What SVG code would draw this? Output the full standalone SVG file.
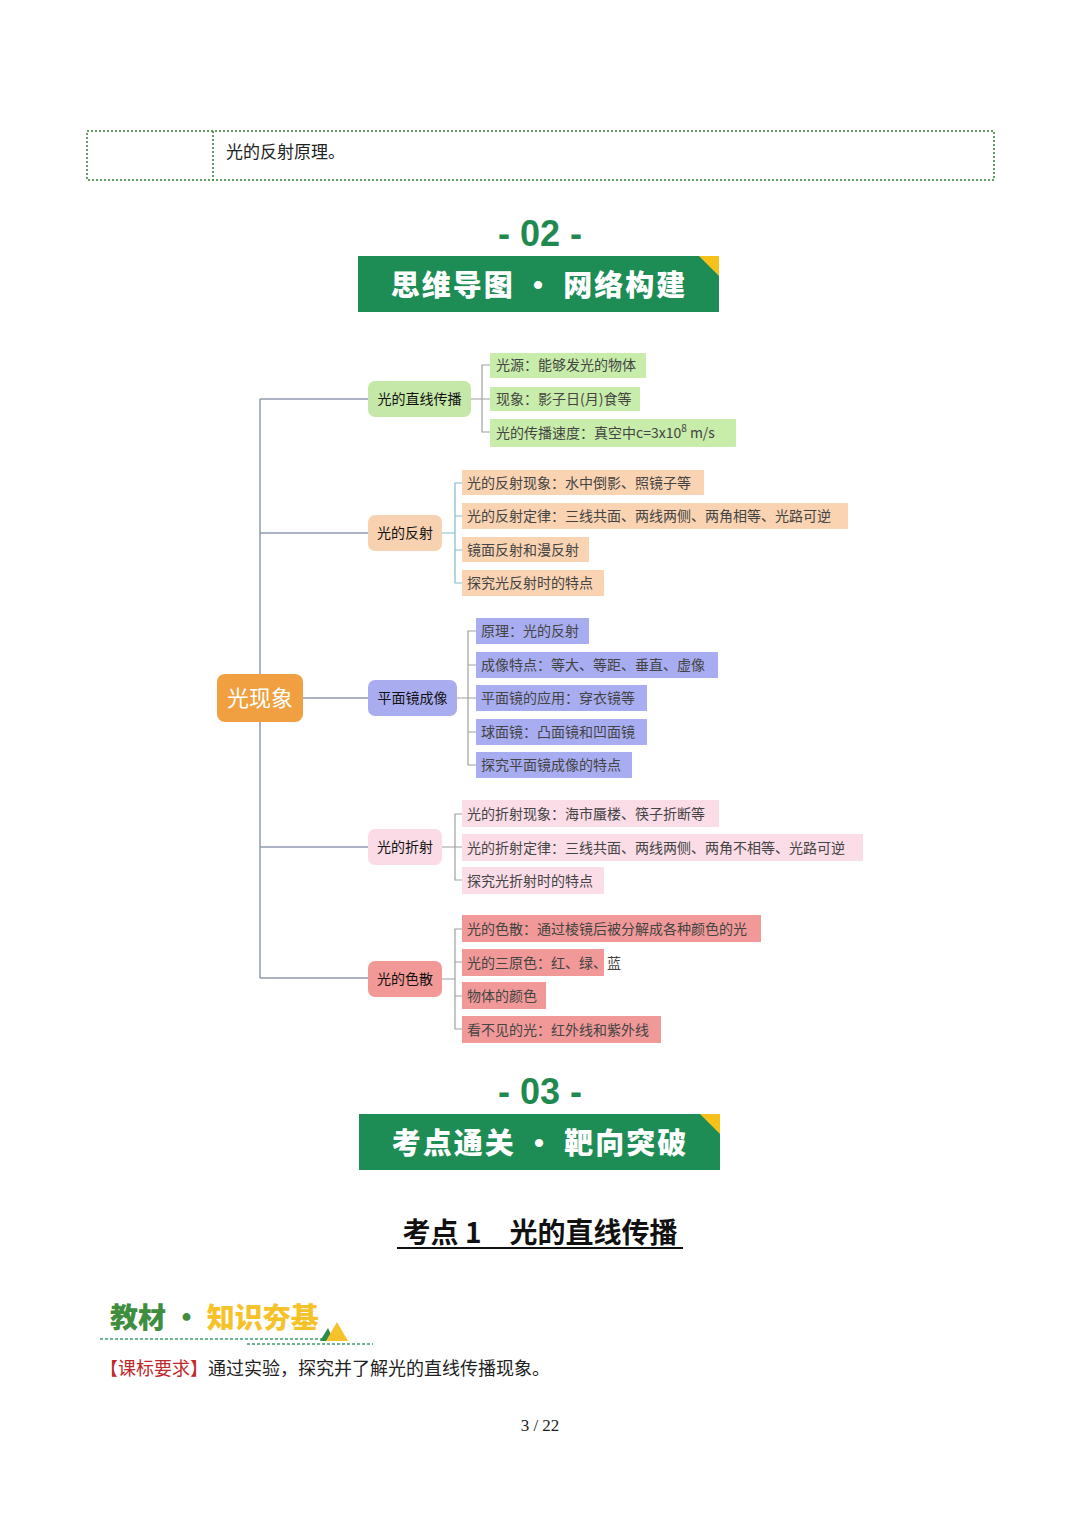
<svg xmlns="http://www.w3.org/2000/svg" width="1080" height="1527" viewBox="0 0 1080 1527">
<style>
.ser{font-family:"Liberation Serif","Noto Sans CJK SC",serif}
.sans{font-family:"Noto Sans CJK SC","Liberation Sans",sans-serif}
.leaf{font-family:"Noto Sans CJK SC",sans-serif;font-size:14px;fill:#444}
.br{font-family:"Noto Sans CJK SC",sans-serif;font-size:14px;fill:#111}
.ln{fill:none;stroke:#9099b0;stroke-width:1.5}
.lt{fill:none;stroke:#80bccc;stroke-width:1.2}
.lg{fill:none;stroke:#a0a0a0;stroke-width:1.2}
.ban{font-family:"Noto Sans CJK SC",sans-serif;font-weight:900;font-size:29px;fill:#fff;letter-spacing:2px}
.num{font-family:"Liberation Sans","DejaVu Sans",sans-serif;font-weight:bold;font-size:36px;fill:#1f8a50}
</style>
<rect width="1080" height="1527" fill="#fff"/>
<g id="table">
<rect x="87" y="131" width="907" height="49" fill="none" stroke="#2e7d32" stroke-width="1.5" stroke-dasharray="2,2"/>
<line x1="213" y1="131" x2="213" y2="180" stroke="#2e7d32" stroke-width="1.5" stroke-dasharray="2,2"/>
<text x="226" y="158" class="ser" font-size="17" fill="#222">光的反射原理。</text>
</g>
<g id="head02">
<text x="540" y="246" class="num" text-anchor="middle">- 02 -</text>
<rect x="358" y="256" width="361" height="56" fill="#1e8c55"/>
<polygon points="699,256 719,256 719,276" fill="#f6c21a"/>
<text x="539" y="296" class="ban" text-anchor="middle">思维导图 · 网络构建</text>
</g>
<g id="connectors">
<path class="ln" d="M260,399 V978 M303,698 H368 M260,399 H368 M260,533 H368 M260,847 H368 M260,978 H368"/>
<path class="lg" d="M471,399 H482 M490,365 H482 V432 H490 M482,399 H490"/>
<path class="lt" d="M442,533 H455 M462,483 H455 V583 H462 M455,516 H462 M455,550 H462"/>
<path class="lg" d="M457,698 H468 M476,631 H468 V765 H476 M468,665 H476 M468,698 H476 M468,732 H476"/>
<path class="lg" d="M442,847 H455 M462,814 H455 V880 H462 M455,847 H462"/>
<path class="lg" d="M442,979 H455 M462,929 H455 V1029 H462 M455,962 H462 M455,996 H462"/>
</g>
<g id="root"><rect x="217" y="674" width="86" height="48" rx="8" fill="#f0a040"/><text x="260" y="706" text-anchor="middle" class="sans" font-size="22" fill="#fff">光现象</text></g>
<g id="b1"><rect x="368" y="381" width="103" height="36" rx="7" fill="#c5e8a8"/><text x="419.5" y="404" text-anchor="middle" class="br">光的直线传播</text></g>
<g id="b2"><rect x="368" y="515" width="74" height="36" rx="7" fill="#f8d2b0"/><text x="405" y="538" text-anchor="middle" class="br">光的反射</text></g>
<g id="b3"><rect x="368" y="680" width="89" height="36" rx="7" fill="#a9adf0"/><text x="412.5" y="703" text-anchor="middle" class="br">平面镜成像</text></g>
<g id="b4"><rect x="368" y="829" width="74" height="36" rx="7" fill="#fadbe6"/><text x="405" y="852" text-anchor="middle" class="br">光的折射</text></g>
<g id="b5"><rect x="368" y="961" width="74" height="36" rx="7" fill="#f29896"/><text x="405" y="984" text-anchor="middle" class="br">光的色散</text></g>
<g id="l1a"><rect x="490" y="353" width="156" height="25" fill="#c8ecaa"/><text x="496" y="370" class="leaf">光源：能够发光的物体</text></g>
<g id="l1b"><rect x="490" y="387" width="150" height="24" fill="#c8ecaa"/><text x="496" y="404" class="leaf">现象：影子日(月)食等</text></g>
<g id="l1c"><rect x="490" y="419" width="246" height="28" fill="#c8ecaa"/><text x="496" y="438" class="leaf">光的传播速度：真空中c=3x10<tspan dy="-6" font-size="10">8</tspan><tspan dy="6"> m/s</tspan></text></g>
<g id="l2a"><rect x="462" y="470" width="242" height="25" fill="#f9d3b2"/><text x="467" y="488" class="leaf">光的反射现象：水中倒影、照镜子等</text></g>
<g id="l2b"><rect x="462" y="503" width="386" height="26" fill="#f9d3b2"/><text x="467" y="521" class="leaf">光的反射定律：三线共面、两线两侧、两角相等、光路可逆</text></g>
<g id="l2c"><rect x="462" y="537" width="127" height="25" fill="#f9d3b2"/><text x="467" y="555" class="leaf">镜面反射和漫反射</text></g>
<g id="l2d"><rect x="462" y="570" width="142" height="26" fill="#f9d3b2"/><text x="467" y="588" class="leaf">探究光反射时的特点</text></g>
<g id="l3a"><rect x="476" y="618" width="113" height="26" fill="#a8acf0"/><text x="481" y="636" class="leaf">原理：光的反射</text></g>
<g id="l3b"><rect x="476" y="652" width="242" height="26" fill="#a8acf0"/><text x="481" y="670" class="leaf">成像特点：等大、等距、垂直、虚像</text></g>
<g id="l3c"><rect x="476" y="685" width="171" height="26" fill="#a8acf0"/><text x="481" y="703" class="leaf">平面镜的应用：穿衣镜等</text></g>
<g id="l3d"><rect x="476" y="719" width="171" height="26" fill="#a8acf0"/><text x="481" y="737" class="leaf">球面镜：凸面镜和凹面镜</text></g>
<g id="l3e"><rect x="476" y="752" width="156" height="26" fill="#a8acf0"/><text x="481" y="770" class="leaf">探究平面镜成像的特点</text></g>
<g id="l4a"><rect x="462" y="800" width="257" height="27" fill="#fbdde8"/><text x="467" y="819" class="leaf">光的折射现象：海市蜃楼、筷子折断等</text></g>
<g id="l4b"><rect x="462" y="834" width="401" height="27" fill="#fbdde8"/><text x="467" y="853" class="leaf">光的折射定律：三线共面、两线两侧、两角不相等、光路可逆</text></g>
<g id="l4c"><rect x="462" y="867" width="142" height="27" fill="#fbdde8"/><text x="467" y="886" class="leaf">探究光折射时的特点</text></g>
<g id="l5a"><rect x="462" y="915" width="299" height="27" fill="#f19998"/><text x="467" y="934" class="leaf">光的色散：通过棱镜后被分解成各种颜色的光</text></g>
<g id="l5b"><rect x="462" y="949" width="142" height="27" fill="#f19998"/><text x="467" y="968" class="leaf">光的三原色：红、绿、蓝</text></g>
<g id="l5c"><rect x="462" y="982" width="84" height="27" fill="#f19998"/><text x="467" y="1001" class="leaf">物体的颜色</text></g>
<g id="l5d"><rect x="462" y="1016" width="199" height="27" fill="#f19998"/><text x="467" y="1035" class="leaf">看不见的光：红外线和紫外线</text></g>
<g id="head03">
<text x="540" y="1104" class="num" text-anchor="middle">- 03 -</text>
<rect x="359" y="1114" width="361" height="56" fill="#1e8c55"/>
<polygon points="700,1114 720,1114 720,1134" fill="#f6c21a"/>
<text x="540" y="1154" class="ban" text-anchor="middle">考点通关 · 靶向突破</text>
</g>
<g id="title">
<text x="540" y="1243" text-anchor="middle" class="sans" font-weight="bold" font-size="28" fill="#111">考点 1　光的直线传播</text>
<line x1="397" y1="1248" x2="683" y2="1248" stroke="#111" stroke-width="2"/>
</g>
<g id="jiaocai">
<text x="110" y="1328" class="sans" font-weight="900" font-size="28"><tspan fill="#3f8e3f">教材 · </tspan><tspan fill="#f6c22a">知识夯基</tspan></text>
<line x1="100" y1="1339" x2="330" y2="1339" stroke="#3f9e6f" stroke-width="1.5" stroke-dasharray="3,2"/>
<line x1="247" y1="1344" x2="373" y2="1344" stroke="#3f9e6f" stroke-width="1.5" stroke-dasharray="3,2"/>
<polygon points="320,1341 328,1328 334,1341" fill="#2e8a4a"/>
<polygon points="326,1341 337,1322 348,1341" fill="#f6c22a"/>
</g>
<g id="req">
<text x="100" y="1375" class="ser" font-size="18"><tspan fill="#c0282a">【课标要求】</tspan><tspan fill="#222">通过实验，探究并了解光的直线传播现象。</tspan></text>
</g>
<text x="540" y="1431" text-anchor="middle" class="ser" font-size="17" fill="#222">3 / 22</text>
</svg>
